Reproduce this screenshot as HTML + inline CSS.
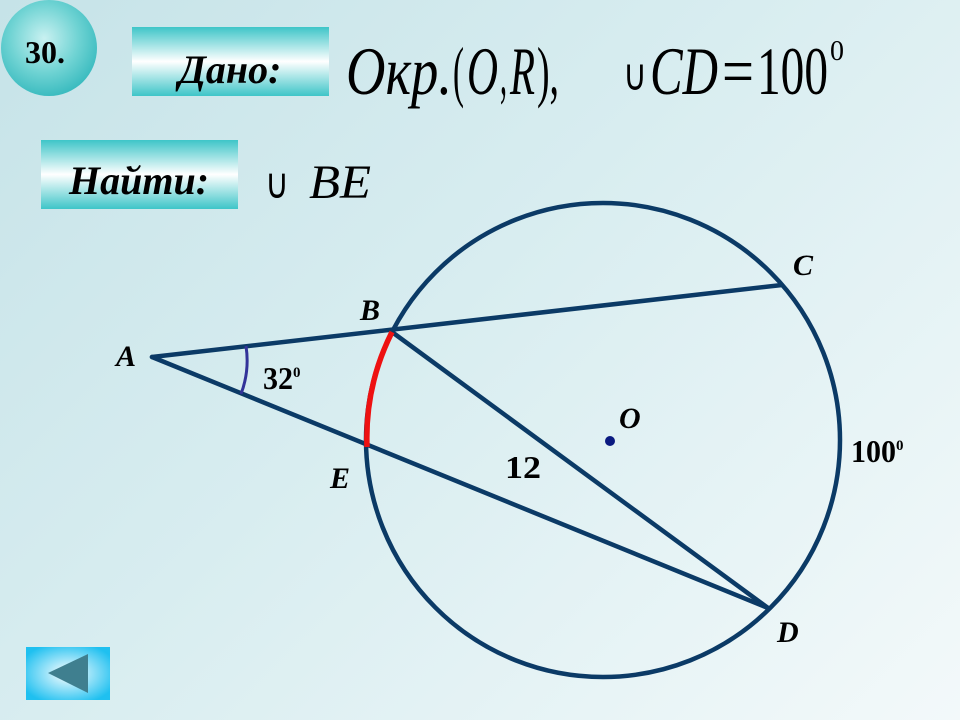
<!DOCTYPE html>
<html><head><meta charset="utf-8"><style>
html,body{margin:0;padding:0;}
body{width:960px;height:720px;overflow:hidden;background:linear-gradient(135deg,#c6e3e8 0%,#d8edf0 45%,#f3f9fa 100%);}
svg{display:block}
text{font-family:"Liberation Serif",serif;}
</style></head><body>
<svg width="960" height="720" xmlns="http://www.w3.org/2000/svg">
<defs>
<radialGradient id="ball" cx="45%" cy="40%" r="60%"><stop offset="0" stop-color="#c9f1f1"/><stop offset="0.6" stop-color="#6fd3d3"/><stop offset="1" stop-color="#3cbcc0"/></radialGradient>
<linearGradient id="bar" x1="0" y1="0" x2="0" y2="1"><stop offset="0" stop-color="#3ec5c8"/><stop offset="0.5" stop-color="#ffffff"/><stop offset="1" stop-color="#3ec5c8"/></linearGradient>
<radialGradient id="btn" cx="50%" cy="50%" r="60%"><stop offset="0" stop-color="#ffffff"/><stop offset="1" stop-color="#1fc0f0"/></radialGradient>
</defs>
<circle cx="49" cy="48" r="48" fill="url(#ball)"/>
<text x="25" y="63" font-size="32" font-weight="bold">30.</text>
<rect x="132" y="27" width="197" height="69" fill="url(#bar)"/>
<text x="230" y="83" font-size="40" font-weight="bold" font-style="italic" text-anchor="middle">Дано:</text>
<rect x="41" y="140" width="197" height="69" fill="url(#bar)"/>
<text x="139" y="194" font-size="40" font-weight="bold" font-style="italic" text-anchor="middle">Найти:</text>

<g font-size="68">
<text x="346" y="94" font-style="italic" textLength="106" lengthAdjust="spacingAndGlyphs">Окр.</text>
<text x="453" y="94" textLength="11" lengthAdjust="spacingAndGlyphs">(</text>
<text x="467" y="94" font-style="italic" textLength="31" lengthAdjust="spacingAndGlyphs">O</text>
<text x="500" y="94" textLength="7" lengthAdjust="spacingAndGlyphs">,</text>
<text x="510" y="94" font-style="italic" textLength="25" lengthAdjust="spacingAndGlyphs">R</text>
<text x="537" y="94" textLength="22" lengthAdjust="spacingAndGlyphs">),</text>
<text x="623" y="90" font-size="44" textLength="24" lengthAdjust="spacingAndGlyphs">∪</text>
<text x="650" y="94" font-style="italic" textLength="68" lengthAdjust="spacingAndGlyphs">CD</text>
<text x="722" y="94" textLength="32" lengthAdjust="spacingAndGlyphs">=</text>
<text x="757" y="94" textLength="71" lengthAdjust="spacingAndGlyphs">100</text>
</g>
<text x="830" y="60" font-size="28" textLength="14" lengthAdjust="spacingAndGlyphs">0</text>
<text x="265" y="198" font-size="42" textLength="24" lengthAdjust="spacingAndGlyphs">∪</text>
<text x="309" y="198" font-size="48" font-style="italic" textLength="62" lengthAdjust="spacingAndGlyphs">BE</text>

<g stroke="#0b3a66" stroke-width="4.5" fill="none" stroke-linecap="round">
<circle cx="603" cy="440" r="237"/>
<line x1="152" y1="357" x2="782" y2="285"/>
<line x1="152" y1="357" x2="768" y2="608"/>
<line x1="392" y1="332" x2="768" y2="608"/>
</g>
<path d="M392 332 A237 237 0 0 0 367 447" stroke="#ee1111" stroke-width="5.5" fill="none"/>
<path d="M246 346 A95 95 0 0 1 241 394" stroke="#333399" stroke-width="3" fill="none"/>
<circle cx="610" cy="441" r="5" fill="#0a1a80"/>

<g font-weight="bold" font-style="italic" font-size="30">
<text x="116" y="366">A</text>
<text x="360" y="320">B</text>
<text x="793" y="275">C</text>
<text x="330" y="488">E</text>
<text x="777" y="642">D</text>
<text x="619" y="428">O</text>
</g>
<g font-weight="bold" font-size="32">
<text x="505" y="478" textLength="36" lengthAdjust="spacingAndGlyphs">12</text>
<text x="263" y="389" textLength="30" lengthAdjust="spacingAndGlyphs">32</text><text x="293" y="377" font-size="15">0</text>
<text x="851" y="462" textLength="45" lengthAdjust="spacingAndGlyphs">100</text><text x="896" y="450" font-size="15">0</text>
</g>

<rect x="26" y="647" width="84" height="53" fill="url(#btn)"/>
<polygon points="48,673 88,654 88,693" fill="#3f7f8f"/>
</svg>
</body></html>
